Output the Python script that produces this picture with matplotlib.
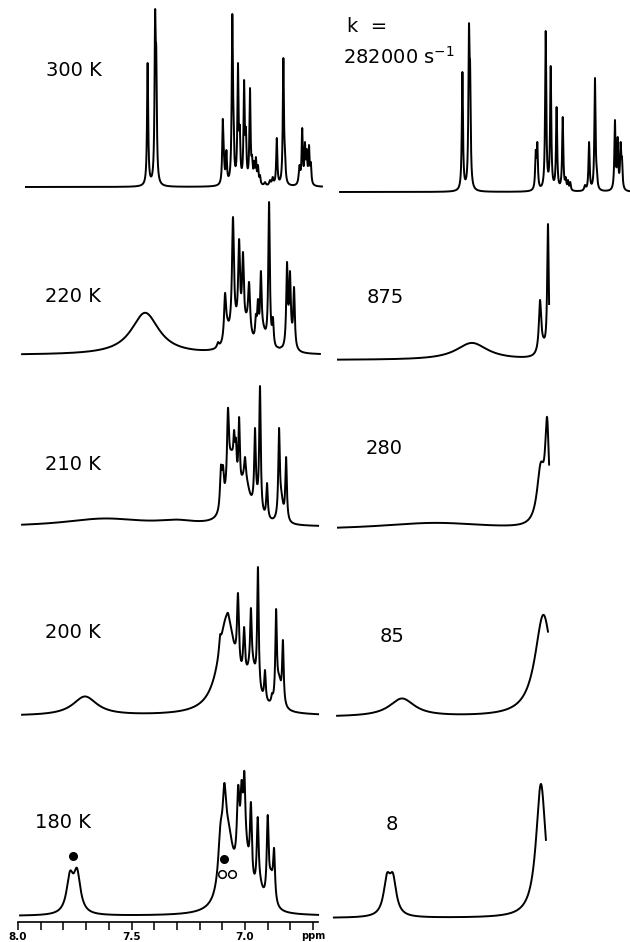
import numpy as np
import matplotlib
matplotlib.use("Agg")
import matplotlib.pyplot as plt
from matplotlib.ticker import MultipleLocator, FixedLocator, NullFormatter

W, H = 630, 942
PX_PPM = 227.0  # pixels por ppm no eixo

# linhas finas: (ppm, altura lida no traço, meia-largura ppm) -> amplitudes resolvidas
# componentes largas: (ppm, amplitude, meia-largura ppm)

# ---- coluna esquerda (experimental) ----
finas_300 = [(7.429, 124, .003), (7.396, 177, .003), (7.391, 140, .003),
             (7.098, 68, .003), (7.093, 36, .003), (7.082, 37, .003),
             (7.056, 173, .003), (7.051, 80, .003), (7.031, 124, .003), (7.023, 62, .003),
             (7.004, 107, .003), (6.996, 60, .003), (6.978, 99, .003),
             (6.969, 32, .003), (6.960, 26, .003), (6.952, 30, .003), (6.943, 22, .003), (6.934, 12, .003),
             (6.912, 5, .004), (6.890, 7, .004), (6.878, 10, .004),
             (6.860, 49, .003), (6.831, 129, .003), (6.824, 40, .003),
             (6.760, 22, .004), (6.748, 59, .003), (6.736, 45, .003), (6.728, 38, .003),
             (6.718, 42, .003), (6.710, 25, .003)]
largas_300 = []

finas_220 = [(7.119, 13, .005), (7.088, 62, .005), (7.053, 138, .005), (7.026, 116, .005),
             (7.009, 103, .005), (6.982, 73, .005), (6.952, 41, .004), (6.943, 56, .004),
             (6.930, 84, .004), (6.894, 153, .004), (6.877, 38, .004), (6.855, 8, .005),
             (6.841, 8, .005), (6.815, 93, .004), (6.802, 84, .004), (6.784, 68, .004)]
largas_220 = [(7.44, 42, .075), (7.05, 20, .025), (7.08, 12, .01), (6.99, 20, .02),
              (6.92, 15, .015), (6.80, 12, .012)]

finas_210 = [(7.106, 62, .005), (7.097, 62, .005), (7.075, 119, .005), (7.048, 97, .004),
             (7.040, 89, .004), (7.026, 110, .004), (7.000, 70, .004), (6.956, 99, .004),
             (6.934, 141, .004), (6.903, 44, .004), (6.850, 99, .004), (6.819, 70, .004)]
largas_210 = [(7.62, 8, .22), (7.30, 4, .1), (7.06, 55, .02), (7.00, 40, .025),
              (6.95, 10, .015), (6.84, 20, .01)]

finas_200 = [(7.110, 81, .005), (7.075, 103, .006), (7.031, 123, .005), (7.004, 89, .005),
             (6.974, 108, .004), (6.943, 149, .004), (6.912, 46, .004), (6.881, 23, .004),
             (6.863, 107, .004), (6.833, 76, .004)]
largas_200 = [(7.705, 19, .065), (7.08, 95, .045), (6.97, 35, .025), (6.85, 25, .012)]

finas_180 = [(7.771, 45, .018), (7.740, 48, .018),
             (7.108, 93, .012), (7.091, 133, .009), (7.030, 131, .007), (7.015, 136, .006),
             (7.003, 145, .005), (6.974, 114, .005), (6.944, 99, .005), (6.900, 101, .005),
             (6.872, 68, .005)]
largas_180 = [(7.075, 70, .03), (7.00, 50, .025), (6.935, 15, .02), (6.885, 25, .012)]

# ---- coluna direita (simulado) ----
finas_k282000 = [(7.430, 120, .003), (7.401, 168, .003), (7.396, 129, .003),
                 (7.107, 42, .003), (7.100, 50, .003), (7.063, 161, .003), (7.041, 126, .003),
                 (7.015, 85, .003), (6.988, 75, .003), (6.975, 15, .003), (6.965, 12, .003),
                 (6.955, 10, .003), (6.890, 7, .004), (6.872, 50, .003), (6.846, 114, .003),
                 (6.838, 25, .003), (6.758, 72, .003), (6.746, 55, .003), (6.733, 50, .003),
                 (6.727, 35, .003)]
largas_k282000 = []
finas_k875 = [(7.088, 60, .006), (7.053, 136, .004)]
largas_k875 = [(7.388, 17, .085), (7.075, 10, .02)]
finas_k280 = [(7.057, 113, .01)]
largas_k280 = [(7.55, 7, .3), (7.085, 55, .02)]
finas_k85 = []
largas_k85 = [(7.696, 18, .068), (7.073, 102, .045)]
finas_k8 = [(7.762, 45, .018), (7.736, 45, .018)]
largas_k8 = [(7.084, 134, .026)]

rotulos_esq = ["300 K", "220 K", "210 K", "200 K", "180 K"]
rotulos_dir = ["282000", "875", "280", "85", "8"]

esquerda = [(finas_300, largas_300), (finas_220, largas_220), (finas_210, largas_210),
            (finas_200, largas_200), (finas_180, largas_180)]
direita = [(finas_k282000, largas_k282000), (finas_k875, largas_k875), (finas_k280, largas_k280),
           (finas_k85, largas_k85), (finas_k8, largas_k8)]
# faixa de cada traço (ppm inicial, ppm final)
faixa_esq = [(7.965, 6.661), (7.982, 6.670), (7.982, 6.678), (7.982, 6.678), (7.991, 6.678)]
faixa_dir = [(7.969, 6.648), (7.978, 7.048), (7.978, 7.048), (7.982, 7.053), (7.996, 7.062)]

base_esq = [187, 355, 527, 716, 916]
base_dir = [192, 360, 530, 717, 918]
pos_rot_esq = [(46, 70), (45, 297), (45, 465), (45, 633), (35, 823)]
pos_rot_dir = [(367, 298), (366, 448), (380, 636), (386, 825)]


def lorentz(x, c, h, w):
    return h / (1 + ((x - c) / w) ** 2)


def espectro(x, finas, largas):
    y = np.zeros_like(x)
    for c, h, w in largas:
        y += lorentz(x, c, h, w)
    if finas:
        c = np.array([p[0] for p in finas])
        alvo = np.array([p[1] for p in finas], float)
        w = np.array([p[2] for p in finas])
        resto = alvo - sum(lorentz(c, *p) for p in largas) if largas else alvo
        A = 1 / (1 + ((c[:, None] - c[None, :]) / w[None, :]) ** 2)
        amp = np.clip(np.linalg.solve(A, resto), 0, None)
        for ci, hi, wi in zip(c, amp, w):
            y += lorentz(x, ci, hi, wi)
    return y


fig = plt.figure(figsize=(W / 100, H / 100), dpi=100)


def painel(x0, base, w=307):
    topo = base - 200
    ax = fig.add_axes([x0 / W, 1 - (topo + 212) / H, w / W, 212 / H])
    ax.set_xlim(8.0, 8.0 - w / PX_PPM)
    ax.set_ylim(-12, 200)
    ax.axis("off")
    return ax


def texto(x, y, s, **kw):
    fig.text(x / W, 1 - y / H, s, va="center", ha="left", fontsize=14, **kw)


axes_esq = []
for (finas, largas), (a, b), base in zip(esquerda, faixa_esq, base_esq):
    ax = painel(18, base)
    x = np.linspace(a, b, 8000)
    ax.plot(x, espectro(x, finas, largas), color="black", lw=1.4, clip_on=False)
    axes_esq.append(ax)

for (finas, largas), (a, b), base in zip(direita, faixa_dir, base_dir):
    ax = painel(333, base)
    x = np.linspace(a, b, 8000)
    ax.plot(x, espectro(x, finas, largas), color="black", lw=1.4, clip_on=False)

for s, (x, y) in zip(rotulos_esq, pos_rot_esq):
    texto(x, y, s)

texto(347, 27, "k  =")
texto(343, 57, rotulos_dir[0] + r" s$^{\mathregular{-1}}$")
for s, (x, y) in zip(rotulos_dir[1:], pos_rot_dir):
    texto(x, y, s)

# marcadores do espectro a 180 K
ax = axes_esq[-1]
ax.plot([7.758, 7.093], [60, 57], "o", color="black", ms=5.5, clip_on=False)
ax.plot([7.102, 7.058], [42, 42], "o", mfc="white", mec="black", mew=1.1, ms=5.5, clip_on=False)

# escala de ppm
eixo = fig.add_axes([18 / W, 1 - 922 / H, 300 / W, 1 / H])
eixo.set_xlim(8.0, 8.0 - 300 / PX_PPM)
for lado in ["top", "left", "right"]:
    eixo.spines[lado].set_visible(False)
eixo.spines["bottom"].set_linewidth(1.2)
eixo.set_yticks([])
eixo.xaxis.set_major_locator(FixedLocator([8.0, 7.5, 7.0]))
eixo.xaxis.set_minor_locator(MultipleLocator(0.1))
eixo.xaxis.set_minor_formatter(NullFormatter())
eixo.set_xticklabels(["8.0", "7.5", "7.0"], fontsize=7.5, fontweight="bold")
eixo.tick_params(axis="x", which="both", direction="out", length=6, width=1.1, pad=1.5)
eixo.text(6.70, -14, "ppm", transform=eixo.get_xaxis_transform(), fontsize=7,
          fontweight="bold", ha="center", va="center")

fig.savefig("out.png", dpi=100)
